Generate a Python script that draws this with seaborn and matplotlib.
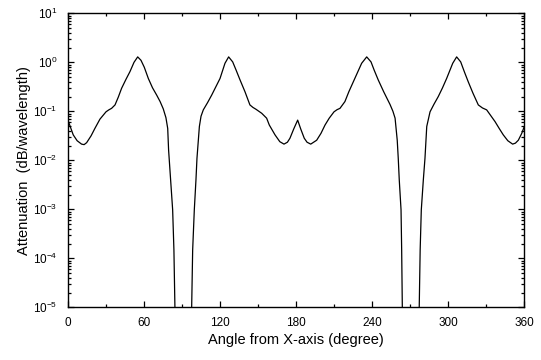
import numpy as np
import pandas as pd
import matplotlib
matplotlib.use("Agg")
import matplotlib.pyplot as plt
import matplotlib.ticker as mticker
import seaborn as sns

angle_deg = [0, 3.9, 7, 10.5, 12.5, 14.5, 18, 21, 25, 29.8, 32, 34.2, 36.9, 39.5, 42.1, 45.5,
             48.7, 51.9, 54.8, 57.4, 60, 63.2, 66.5, 69.8, 72.5, 75, 77.1, 78.5, 79.2, 80.8,
             82.4, 83.4, 84.2, 85.0, 90.8, 96.6, 97.4, 98.2, 99.5, 100.8, 101.6, 103.5, 104.8,
             106.6, 110, 113.2, 116.5, 119.8, 123.7, 126.6, 129.8, 132.5, 135.6, 139.5,
             143.4, 145.8, 148.2, 152.7, 156.6, 158.7, 163.2, 167, 170.3, 173, 175, 178, 181.1,
             183.5, 186.3, 188.5, 191.4, 196.1, 199.5, 202.7, 206, 209.8, 212.2, 214.5, 218.4,
             221.5, 225, 228.5, 231.6, 235.6, 239, 241.5, 244.7, 249, 254, 256.3, 258, 259.7,
             260.5, 261.3, 262.7, 263.2, 263.7, 264.5, 270.4, 276.3, 277.1, 277.8, 278.7,
             280.3, 281.6, 283, 285.6, 288.8, 292.1, 295.4, 298.7, 303.5, 306.6, 309.8,
             312.8, 315.8, 319.5, 323.7, 327, 330.3, 333.6, 336.9, 340.2, 343.4, 347, 350.8,
             353, 355.3, 358, 360]

attenuation = [0.0631, 0.0331, 0.0251, 0.0214, 0.0209, 0.0229, 0.0316, 0.0447, 0.0692,
               0.0977, 0.107, 0.115, 0.135, 0.195, 0.295, 0.447, 0.646, 1.0, 1.29, 1.10,
               0.794, 0.468, 0.302, 0.214, 0.158, 0.112, 0.0741, 0.0447, 0.0162, 0.00398,
               0.000977, 0.000148, 1.07e-5, 6.3e-7, 1e-8, 6.3e-7, 1.07e-5, 0.000148,
               0.000977, 0.00398, 0.011, 0.049, 0.0794, 0.107, 0.151, 0.214, 0.316, 0.468,
               0.955, 1.29, 1.02, 0.692, 0.437, 0.251, 0.135, 0.12, 0.11, 0.0912, 0.0724,
               0.0525, 0.0331, 0.024, 0.0214, 0.0234, 0.0282, 0.0437, 0.0661, 0.0437,
               0.0282, 0.0234, 0.0214, 0.0257, 0.0355, 0.0525, 0.0724, 0.0977, 0.108, 0.115,
               0.158, 0.251, 0.398, 0.631, 0.955, 1.29, 1.02, 0.692, 0.437, 0.251, 0.138,
               0.1, 0.0724, 0.0257, 0.011, 0.00398, 0.000977, 0.000148, 1.07e-5, 6.3e-7,
               1e-8, 6.3e-7, 1.07e-5, 0.000148, 0.000977, 0.00398, 0.011, 0.049, 0.0977,
               0.141, 0.2, 0.3, 0.468, 0.955, 1.29, 1.02, 0.63, 0.398, 0.234, 0.135, 0.117,
               0.107, 0.0813, 0.0617, 0.0447, 0.0331, 0.0251, 0.0214, 0.0224, 0.0257, 0.0355,
               0.049]

x_ticks = [0, 60, 120, 180, 240, 300, 360]
y_ticks = [1e-5, 1e-4, 1e-3, 1e-2, 1e-1, 1e0, 1e1]
x_label = "Angle from X-axis (degree)"
y_label = "Attenuation  (dB/wavelength)"

sns.set_style("ticks")
plt.rcParams["font.family"] = ["Liberation Sans", "DejaVu Sans"]
plt.rcParams["mathtext.fontset"] = "custom"
plt.rcParams["mathtext.rm"] = "Liberation Sans"
plt.rcParams["mathtext.it"] = "Liberation Sans:italic"
plt.rcParams["mathtext.bf"] = "Liberation Sans:bold"

df = pd.DataFrame({"angle": angle_deg, "att": attenuation})

fig = plt.figure(figsize=(5.41, 3.60), dpi=100)
ax = fig.add_axes([0.1262, 0.1464, 0.9691 - 0.1262, 0.963 - 0.1464])

sns.lineplot(data=df, x="angle", y="att", ax=ax, color="black", linewidth=0.9,
             estimator=None, sort=False)

ax.set_yscale("log")
ax.set_xlim(0, 360)
ax.set_ylim(1e-5, 10)
ax.set_xticks(x_ticks)
ax.xaxis.set_minor_locator(mticker.FixedLocator([30, 90, 150, 210, 270, 330]))
ax.yaxis.set_major_locator(mticker.FixedLocator(y_ticks))
ax.yaxis.set_major_formatter(mticker.LogFormatterSciNotation())
minor_y = [m * 10.0 ** e for e in range(-5, 1) for m in range(2, 10)]
ax.yaxis.set_minor_locator(mticker.FixedLocator(minor_y))
ax.yaxis.set_minor_formatter(mticker.NullFormatter())

ax.tick_params(which="both", direction="in", top=True, right=True, color="black",
               labelsize=8.5, labelcolor="black", width=0.9)
ax.tick_params(which="major", length=4)
ax.tick_params(axis="x", which="major", pad=7)
ax.tick_params(axis="y", which="major", pad=8)
ax.tick_params(which="minor", length=2.3)

for s in ax.spines.values():
    s.set_visible(True)
    s.set_color("black")
    s.set_linewidth(1.0)

ax.set_xlabel(x_label, fontsize=10.5, labelpad=3, color="black")
ax.set_ylabel(y_label, fontsize=10.5, labelpad=1, color="black")

fig.savefig("out.png", dpi=100, facecolor="white")
